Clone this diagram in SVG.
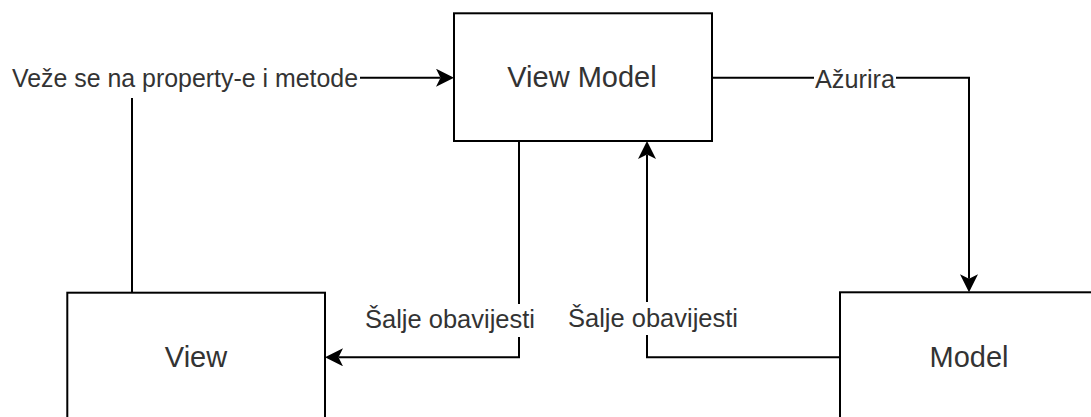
<svg xmlns="http://www.w3.org/2000/svg" width="1091" height="417" viewBox="0 0 1091 417">
  <style>
    .box { fill: #ffffff; stroke: #000000; stroke-width: 2; }
    .edge { fill: none; stroke: #000000; stroke-width: 2; }
    .node-text { font-family: "Liberation Sans", Arial, Helvetica, sans-serif; font-size: 29px; fill: #333333; text-anchor: middle; }
    .label-text { font-family: "Liberation Sans", Arial, Helvetica, sans-serif; font-size: 25.5px; fill: #333333; text-anchor: middle; }
    .label-bg { fill: #ffffff; }
  </style>
  <defs>
    <marker id="arrow" viewBox="0 0 18 18" refX="4.5" refY="9" markerWidth="18" markerHeight="18" markerUnits="userSpaceOnUse" orient="auto">
      <path d="M0,0 L18,9 L0,18 L4.5,9 Z" fill="#000000" stroke="none"/>
    </marker>
  </defs>
  <rect width="1091" height="417" fill="#ffffff"/>

  <g id="connectors">
    <g id="edge-view-viewmodel">
      <path class="edge" d="M132,293 V77.7 H440.5" marker-end="url(#arrow)"/>
      <rect class="label-bg" x="8" y="62" width="352" height="36"/>
      <text class="label-text" x="185" y="87" textLength="346" lengthAdjust="spacingAndGlyphs">Veže se na property-e i metode</text>
    </g>
    <g id="edge-viewmodel-model">
      <path class="edge" d="M712,77.7 H969 V278.8" marker-end="url(#arrow)"/>
      <rect class="label-bg" x="814" y="62" width="82" height="32"/>
      <text class="label-text" x="855" y="87.5" textLength="80" lengthAdjust="spacingAndGlyphs">Ažurira</text>
    </g>
    <g id="edge-viewmodel-view">
      <path class="edge" d="M519,141 V357.3 H338.5" marker-end="url(#arrow)"/>
      <rect class="label-bg" x="362" y="304" width="176" height="33"/>
      <text class="label-text" x="450" y="328" textLength="170" lengthAdjust="spacingAndGlyphs">Šalje obavijesti</text>
    </g>
    <g id="edge-model-viewmodel">
      <path class="edge" d="M840,357.3 H647 V154.5" marker-end="url(#arrow)"/>
      <rect class="label-bg" x="566" y="302" width="174" height="33"/>
      <text class="label-text" x="653" y="326.5" textLength="170" lengthAdjust="spacingAndGlyphs">Šalje obavijesti</text>
    </g>
  </g>

  <g id="node-viewmodel">
    <rect class="box" x="454" y="13.3" width="258" height="127.7"/>
    <text class="node-text" x="582" y="87.3">View Model</text>
  </g>
  <g id="node-view">
    <rect class="box" x="67.3" y="292.7" width="257.7" height="128"/>
    <text class="node-text" x="196" y="366.7">View</text>
  </g>
  <g id="node-model">
    <rect class="box" x="840" y="292.3" width="258" height="128"/>
    <text class="node-text" x="969" y="366.7">Model</text>
  </g>
</svg>
